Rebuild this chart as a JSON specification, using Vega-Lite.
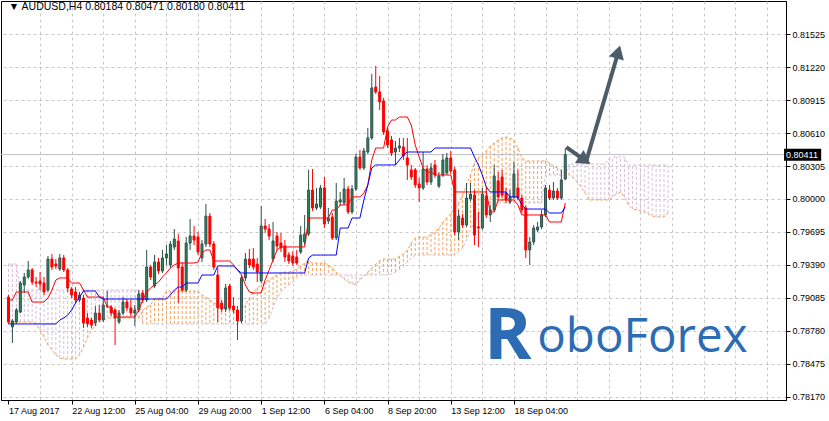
{
"$schema":"https://vega.github.io/schema/vega-lite/v6.json",
"width":785,"height":399,"autosize":"none",
"padding":{"left":1,"top":1,"right":43,"bottom":21},
"background":"white",
"config":{"view":{"stroke":"black","strokeWidth":1},"axis":{"labelFont":"Liberation Sans","labelFontSize":9,"labelColor":"black"}},
"datasets":{
"candles":[
{"i":0,"o":0.79092,"c":0.78861,"h":0.79111,"l":0.78843},
{"i":1,"o":0.78815,"c":0.78871,"h":0.78889,"l":0.78666},
{"i":2,"o":0.78861,"c":0.78972,"h":0.78991,"l":0.78843},
{"i":3,"o":0.78953,"c":0.79222,"h":0.79241,"l":0.78944},
{"i":4,"o":0.79204,"c":0.79278,"h":0.79315,"l":0.79129},
{"i":5,"o":0.79278,"c":0.79343,"h":0.79426,"l":0.79260},
{"i":6,"o":0.79343,"c":0.79231,"h":0.79361,"l":0.79204},
{"i":7,"o":0.79231,"c":0.79222,"h":0.79278,"l":0.79185},
{"i":8,"o":0.79241,"c":0.79213,"h":0.79324,"l":0.79157},
{"i":9,"o":0.79222,"c":0.79139,"h":0.79278,"l":0.79111},
{"i":10,"o":0.79157,"c":0.79444,"h":0.79472,"l":0.79139},
{"i":11,"o":0.79444,"c":0.79370,"h":0.79491,"l":0.79343},
{"i":12,"o":0.79398,"c":0.79379,"h":0.79444,"l":0.79352},
{"i":13,"o":0.79352,"c":0.79454,"h":0.79491,"l":0.79334},
{"i":14,"o":0.79454,"c":0.79343,"h":0.79482,"l":0.79324},
{"i":15,"o":0.79343,"c":0.79176,"h":0.79361,"l":0.79139},
{"i":16,"o":0.79167,"c":0.79111,"h":0.79185,"l":0.79083},
{"i":17,"o":0.79139,"c":0.79065,"h":0.79185,"l":0.79037},
{"i":18,"o":0.79065,"c":0.79111,"h":0.79139,"l":0.79046},
{"i":19,"o":0.79083,"c":0.78852,"h":0.79111,"l":0.78806},
{"i":20,"o":0.78898,"c":0.78843,"h":0.78944,"l":0.78815},
{"i":21,"o":0.78880,"c":0.78834,"h":0.78898,"l":0.78806},
{"i":22,"o":0.78852,"c":0.78944,"h":0.79009,"l":0.78824},
{"i":23,"o":0.78944,"c":0.78880,"h":0.79018,"l":0.78861},
{"i":24,"o":0.78880,"c":0.79018,"h":0.79083,"l":0.78861},
{"i":25,"o":0.79009,"c":0.79010,"h":0.79148,"l":0.78991},
{"i":26,"o":0.79000,"c":0.78944,"h":0.79018,"l":0.78916},
{"i":27,"o":0.78972,"c":0.78898,"h":0.78991,"l":0.78648},
{"i":28,"o":0.78861,"c":0.78944,"h":0.78972,"l":0.78843},
{"i":29,"o":0.78944,"c":0.79046,"h":0.79092,"l":0.78926},
{"i":30,"o":0.79046,"c":0.78991,"h":0.79074,"l":0.78963},
{"i":31,"o":0.78991,"c":0.78944,"h":0.79065,"l":0.78916},
{"i":32,"o":0.78944,"c":0.78972,"h":0.79018,"l":0.78824},
{"i":33,"o":0.78972,"c":0.79120,"h":0.79157,"l":0.78953},
{"i":34,"o":0.79129,"c":0.79065,"h":0.79157,"l":0.79037},
{"i":35,"o":0.79065,"c":0.79370,"h":0.79528,"l":0.79046},
{"i":36,"o":0.79370,"c":0.79278,"h":0.79389,"l":0.79250},
{"i":37,"o":0.79194,"c":0.79417,"h":0.79482,"l":0.79176},
{"i":38,"o":0.79417,"c":0.79334,"h":0.79454,"l":0.79306},
{"i":39,"o":0.79334,"c":0.79454,"h":0.79528,"l":0.79315},
{"i":40,"o":0.79454,"c":0.79491,"h":0.79574,"l":0.79389},
{"i":41,"o":0.79389,"c":0.79583,"h":0.79611,"l":0.79361},
{"i":42,"o":0.79555,"c":0.79629,"h":0.79722,"l":0.79528},
{"i":43,"o":0.79611,"c":0.79361,"h":0.79676,"l":0.79037},
{"i":44,"o":0.79370,"c":0.79157,"h":0.79417,"l":0.79139},
{"i":45,"o":0.79157,"c":0.79592,"h":0.79648,"l":0.79139},
{"i":46,"o":0.79592,"c":0.79657,"h":0.79815,"l":0.79528},
{"i":47,"o":0.79657,"c":0.79620,"h":0.79750,"l":0.79574},
{"i":48,"o":0.79648,"c":0.79509,"h":0.79694,"l":0.79482},
{"i":49,"o":0.79454,"c":0.79583,"h":0.79620,"l":0.79417},
{"i":50,"o":0.79583,"c":0.79842,"h":0.79954,"l":0.79555},
{"i":51,"o":0.79842,"c":0.79583,"h":0.79870,"l":0.79555},
{"i":52,"o":0.79583,"c":0.79370,"h":0.79611,"l":0.79343},
{"i":53,"o":0.79296,"c":0.78991,"h":0.79361,"l":0.78861},
{"i":54,"o":0.79037,"c":0.78981,"h":0.79065,"l":0.78953},
{"i":55,"o":0.78981,"c":0.79176,"h":0.79213,"l":0.78953},
{"i":56,"o":0.79194,"c":0.78991,"h":0.79213,"l":0.78972},
{"i":57,"o":0.79009,"c":0.78972,"h":0.79092,"l":0.78944},
{"i":58,"o":0.78972,"c":0.78871,"h":0.79009,"l":0.78694},
{"i":59,"o":0.78871,"c":0.79269,"h":0.79296,"l":0.78852},
{"i":60,"o":0.79269,"c":0.79444,"h":0.79500,"l":0.79241},
{"i":61,"o":0.79444,"c":0.79389,"h":0.79537,"l":0.79361},
{"i":62,"o":0.79444,"c":0.79370,"h":0.79546,"l":0.79343},
{"i":63,"o":0.79398,"c":0.79324,"h":0.79454,"l":0.79231},
{"i":64,"o":0.79241,"c":0.79750,"h":0.79935,"l":0.79222},
{"i":65,"o":0.79750,"c":0.79722,"h":0.79815,"l":0.79685},
{"i":66,"o":0.79722,"c":0.79657,"h":0.79768,"l":0.79620},
{"i":67,"o":0.79444,"c":0.79611,"h":0.79787,"l":0.79417},
{"i":68,"o":0.79657,"c":0.79565,"h":0.79694,"l":0.79528},
{"i":69,"o":0.79592,"c":0.79546,"h":0.79685,"l":0.79509},
{"i":70,"o":0.79565,"c":0.79463,"h":0.79620,"l":0.79417},
{"i":71,"o":0.79482,"c":0.79426,"h":0.79509,"l":0.79398},
{"i":72,"o":0.79472,"c":0.79407,"h":0.79518,"l":0.79379},
{"i":73,"o":0.79463,"c":0.79407,"h":0.79528,"l":0.79389},
{"i":74,"o":0.79509,"c":0.79666,"h":0.79750,"l":0.79491},
{"i":75,"o":0.79602,"c":0.79676,"h":0.79852,"l":0.79574},
{"i":76,"o":0.79676,"c":0.80083,"h":0.80269,"l":0.79657},
{"i":77,"o":0.80083,"c":0.79917,"h":0.80278,"l":0.79889},
{"i":78,"o":0.79917,"c":0.79954,"h":0.80102,"l":0.79898},
{"i":79,"o":0.79926,"c":0.80102,"h":0.80130,"l":0.79907},
{"i":80,"o":0.80102,"c":0.79768,"h":0.80204,"l":0.79731},
{"i":81,"o":0.79796,"c":0.79824,"h":0.79917,"l":0.79768},
{"i":82,"o":0.79833,"c":0.79639,"h":0.79870,"l":0.79620},
{"i":83,"o":0.79639,"c":0.79981,"h":0.80148,"l":0.79620},
{"i":84,"o":0.79972,"c":0.79991,"h":0.80065,"l":0.79935},
{"i":85,"o":0.79963,"c":0.80093,"h":0.80195,"l":0.79944},
{"i":86,"o":0.80093,"c":0.79880,"h":0.80120,"l":0.79861},
{"i":87,"o":0.79880,"c":0.80093,"h":0.80130,"l":0.79861},
{"i":88,"o":0.80093,"c":0.80389,"h":0.80417,"l":0.80074},
{"i":89,"o":0.80389,"c":0.80287,"h":0.80454,"l":0.80269},
{"i":90,"o":0.80287,"c":0.80445,"h":0.80472,"l":0.80269},
{"i":91,"o":0.80435,"c":0.80565,"h":0.80657,"l":0.80417},
{"i":92,"o":0.80565,"c":0.81028,"h":0.81158,"l":0.80547},
{"i":93,"o":0.81037,"c":0.80991,"h":0.81232,"l":0.80972},
{"i":94,"o":0.80991,"c":0.80898,"h":0.81139,"l":0.80824},
{"i":95,"o":0.80907,"c":0.80620,"h":0.80935,"l":0.80593},
{"i":96,"o":0.80630,"c":0.80500,"h":0.80657,"l":0.80472},
{"i":97,"o":0.80547,"c":0.80426,"h":0.80583,"l":0.80398},
{"i":98,"o":0.80435,"c":0.80472,"h":0.80537,"l":0.80315},
{"i":99,"o":0.80472,"c":0.80491,"h":0.80565,"l":0.80435},
{"i":100,"o":0.80482,"c":0.80398,"h":0.80565,"l":0.80361},
{"i":101,"o":0.80380,"c":0.80315,"h":0.80565,"l":0.80176},
{"i":102,"o":0.80269,"c":0.80204,"h":0.80315,"l":0.80176},
{"i":103,"o":0.80269,"c":0.80130,"h":0.80287,"l":0.80102},
{"i":104,"o":0.80139,"c":0.80102,"h":0.80195,"l":0.79972},
{"i":105,"o":0.80102,"c":0.80278,"h":0.80435,"l":0.80083},
{"i":106,"o":0.80278,"c":0.80157,"h":0.80315,"l":0.80130},
{"i":107,"o":0.80157,"c":0.80287,"h":0.80333,"l":0.80130},
{"i":108,"o":0.80315,"c":0.80222,"h":0.80361,"l":0.80195},
{"i":109,"o":0.80120,"c":0.80213,"h":0.80250,"l":0.80102},
{"i":110,"o":0.80222,"c":0.80361,"h":0.80417,"l":0.80204},
{"i":111,"o":0.80241,"c":0.80380,"h":0.80426,"l":0.80222},
{"i":112,"o":0.80380,"c":0.80259,"h":0.80445,"l":0.80232},
{"i":113,"o":0.80269,"c":0.79694,"h":0.80296,"l":0.79666},
{"i":114,"o":0.79694,"c":0.79842,"h":0.79898,"l":0.79620},
{"i":115,"o":0.79824,"c":0.79759,"h":0.79861,"l":0.79731},
{"i":116,"o":0.79759,"c":0.80009,"h":0.80148,"l":0.79741},
{"i":117,"o":0.80000,"c":0.80046,"h":0.80148,"l":0.79981},
{"i":118,"o":0.80037,"c":0.79666,"h":0.80083,"l":0.79574},
{"i":119,"o":0.79741,"c":0.79731,"h":0.79880,"l":0.79555},
{"i":120,"o":0.79731,"c":0.80046,"h":0.80102,"l":0.79713},
{"i":121,"o":0.80028,"c":0.79852,"h":0.80102,"l":0.79824},
{"i":122,"o":0.79852,"c":0.79898,"h":0.79944,"l":0.79787},
{"i":123,"o":0.79898,"c":0.80213,"h":0.80315,"l":0.79880},
{"i":124,"o":0.80167,"c":0.80019,"h":0.80250,"l":0.79991},
{"i":125,"o":0.80204,"c":0.80037,"h":0.80269,"l":0.80009},
{"i":126,"o":0.80056,"c":0.79991,"h":0.80102,"l":0.79963},
{"i":127,"o":0.79972,"c":0.80019,"h":0.80083,"l":0.79954},
{"i":128,"o":0.80019,"c":0.80232,"h":0.80343,"l":0.80000},
{"i":129,"o":0.80102,"c":0.80009,"h":0.80269,"l":0.79991},
{"i":130,"o":0.80009,"c":0.79898,"h":0.80037,"l":0.79870},
{"i":131,"o":0.79917,"c":0.79528,"h":0.79944,"l":0.79454},
{"i":132,"o":0.79528,"c":0.79602,"h":0.79648,"l":0.79389},
{"i":133,"o":0.79602,"c":0.79731,"h":0.79759,"l":0.79574},
{"i":134,"o":0.79713,"c":0.79741,"h":0.79787,"l":0.79694},
{"i":135,"o":0.79741,"c":0.79852,"h":0.79898,"l":0.79722},
{"i":136,"o":0.79852,"c":0.80102,"h":0.80130,"l":0.79833},
{"i":137,"o":0.80083,"c":0.80009,"h":0.80130,"l":0.79991},
{"i":138,"o":0.80009,"c":0.80074,"h":0.80157,"l":0.79991},
{"i":139,"o":0.80074,"c":0.80009,"h":0.80102,"l":0.79991},
{"i":140,"o":0.80009,"c":0.80176,"h":0.80269,"l":0.79991},
{"i":141,"o":0.80184,"c":0.80411,"h":0.80471,"l":0.80180}
],
"ichi":[
{"i":0,"t":0.79065,"k":0.78843,"a":0.78861,"b":0.79398},
{"i":1,"t":0.79065,"k":0.78843,"a":0.78861,"b":0.79398},
{"i":2,"t":0.79139,"k":0.78843,"a":0.78861,"b":0.79398},
{"i":3,"t":0.79139,"k":0.78843,"a":0.78861,"b":0.79157},
{"i":4,"t":0.79139,"k":0.78843,"a":0.78861,"b":0.79157},
{"i":5,"t":0.79139,"k":0.78843,"a":0.78861,"b":0.79157},
{"i":6,"t":0.79046,"k":0.78843,"a":0.78861,"b":0.79157},
{"i":7,"t":0.79046,"k":0.78843,"a":0.78843,"b":0.79157},
{"i":8,"t":0.79046,"k":0.78843,"a":0.78787,"b":0.79157},
{"i":9,"t":0.79046,"k":0.78843,"a":0.78722,"b":0.79157},
{"i":10,"t":0.79083,"k":0.78843,"a":0.78648,"b":0.79157},
{"i":11,"t":0.79157,"k":0.78843,"a":0.78602,"b":0.79157},
{"i":12,"t":0.79250,"k":0.78843,"a":0.78556,"b":0.79157},
{"i":13,"t":0.79269,"k":0.78880,"a":0.78528,"b":0.79157},
{"i":14,"t":0.79269,"k":0.78898,"a":0.78518,"b":0.79157},
{"i":15,"t":0.79269,"k":0.78926,"a":0.78518,"b":0.79157},
{"i":16,"t":0.79222,"k":0.78972,"a":0.78518,"b":0.79157},
{"i":17,"t":0.79222,"k":0.79037,"a":0.78518,"b":0.79157},
{"i":18,"t":0.79222,"k":0.79092,"a":0.78556,"b":0.79157},
{"i":19,"t":0.79157,"k":0.79148,"a":0.78630,"b":0.79157},
{"i":20,"t":0.79092,"k":0.79148,"a":0.78713,"b":0.79157},
{"i":21,"t":0.79092,"k":0.79148,"a":0.78787,"b":0.79157},
{"i":22,"t":0.79092,"k":0.79148,"a":0.78824,"b":0.79157},
{"i":23,"t":0.79092,"k":0.79092,"a":0.78861,"b":0.79157},
{"i":24,"t":0.79092,"k":0.79074,"a":0.78880,"b":0.79157},
{"i":25,"t":0.79000,"k":0.79074,"a":0.78898,"b":0.79157},
{"i":26,"t":0.79000,"k":0.79074,"a":0.78898,"b":0.79157},
{"i":27,"t":0.78907,"k":0.79074,"a":0.78898,"b":0.79157},
{"i":28,"t":0.78907,"k":0.79074,"a":0.78898,"b":0.79157},
{"i":29,"t":0.78907,"k":0.79074,"a":0.78898,"b":0.79157},
{"i":30,"t":0.78907,"k":0.79074,"a":0.78898,"b":0.79157},
{"i":31,"t":0.78907,"k":0.79074,"a":0.78898,"b":0.79157},
{"i":32,"t":0.78907,"k":0.79074,"a":0.78898,"b":0.79157},
{"i":33,"t":0.78972,"k":0.79074,"a":0.78898,"b":0.79157},
{"i":34,"t":0.79065,"k":0.79074,"a":0.78972,"b":0.78843},
{"i":35,"t":0.79139,"k":0.79074,"a":0.79000,"b":0.78843},
{"i":36,"t":0.79176,"k":0.79074,"a":0.79018,"b":0.78843},
{"i":37,"t":0.79204,"k":0.79074,"a":0.79083,"b":0.78843},
{"i":38,"t":0.79232,"k":0.79074,"a":0.79083,"b":0.78843},
{"i":39,"t":0.79278,"k":0.79074,"a":0.79083,"b":0.78843},
{"i":40,"t":0.79315,"k":0.79074,"a":0.79148,"b":0.78843},
{"i":41,"t":0.79361,"k":0.79111,"a":0.79148,"b":0.78843},
{"i":42,"t":0.79389,"k":0.79157,"a":0.79148,"b":0.78843},
{"i":43,"t":0.79407,"k":0.79185,"a":0.79148,"b":0.78843},
{"i":44,"t":0.79407,"k":0.79185,"a":0.79148,"b":0.78843},
{"i":45,"t":0.79407,"k":0.79222,"a":0.79148,"b":0.78843},
{"i":46,"t":0.79407,"k":0.79222,"a":0.79148,"b":0.78843},
{"i":47,"t":0.79407,"k":0.79222,"a":0.79148,"b":0.78843},
{"i":48,"t":0.79417,"k":0.79222,"a":0.79148,"b":0.78843},
{"i":49,"t":0.79500,"k":0.79296,"a":0.79111,"b":0.78843},
{"i":50,"t":0.79528,"k":0.79296,"a":0.79092,"b":0.78843},
{"i":51,"t":0.79528,"k":0.79296,"a":0.79065,"b":0.78843},
{"i":52,"t":0.79426,"k":0.79296,"a":0.79037,"b":0.78843},
{"i":53,"t":0.79426,"k":0.79380,"a":0.79018,"b":0.78843},
{"i":54,"t":0.79426,"k":0.79380,"a":0.79000,"b":0.78843},
{"i":55,"t":0.79426,"k":0.79380,"a":0.78991,"b":0.78843},
{"i":56,"t":0.79426,"k":0.79380,"a":0.78972,"b":0.78843},
{"i":57,"t":0.79389,"k":0.79380,"a":0.78954,"b":0.78843},
{"i":58,"t":0.79343,"k":0.79343,"a":0.78935,"b":0.78843},
{"i":59,"t":0.79296,"k":0.79315,"a":0.78954,"b":0.78843},
{"i":60,"t":0.79204,"k":0.79315,"a":0.79018,"b":0.78843},
{"i":61,"t":0.79139,"k":0.79315,"a":0.79083,"b":0.78843},
{"i":62,"t":0.79130,"k":0.79315,"a":0.79139,"b":0.78843},
{"i":63,"t":0.79130,"k":0.79315,"a":0.79176,"b":0.78843},
{"i":64,"t":0.79130,"k":0.79315,"a":0.79204,"b":0.78843},
{"i":65,"t":0.79250,"k":0.79315,"a":0.79232,"b":0.78843},
{"i":66,"t":0.79343,"k":0.79315,"a":0.79250,"b":0.78898},
{"i":67,"t":0.79435,"k":0.79315,"a":0.79278,"b":0.78991},
{"i":68,"t":0.79528,"k":0.79315,"a":0.79296,"b":0.79083},
{"i":69,"t":0.79556,"k":0.79315,"a":0.79315,"b":0.79139},
{"i":70,"t":0.79556,"k":0.79315,"a":0.79324,"b":0.79176},
{"i":71,"t":0.79556,"k":0.79315,"a":0.79324,"b":0.79204},
{"i":72,"t":0.79556,"k":0.79315,"a":0.79334,"b":0.79232},
{"i":73,"t":0.79556,"k":0.79315,"a":0.79352,"b":0.79269},
{"i":74,"t":0.79556,"k":0.79315,"a":0.79380,"b":0.79296},
{"i":75,"t":0.79556,"k":0.79315,"a":0.79407,"b":0.79296},
{"i":76,"t":0.79824,"k":0.79454,"a":0.79426,"b":0.79296},
{"i":77,"t":0.79824,"k":0.79481,"a":0.79407,"b":0.79296},
{"i":78,"t":0.79824,"k":0.79481,"a":0.79407,"b":0.79296},
{"i":79,"t":0.79824,"k":0.79481,"a":0.79407,"b":0.79296},
{"i":80,"t":0.79824,"k":0.79481,"a":0.79407,"b":0.79296},
{"i":81,"t":0.79824,"k":0.79481,"a":0.79389,"b":0.79296},
{"i":82,"t":0.79898,"k":0.79481,"a":0.79361,"b":0.79296},
{"i":83,"t":0.79898,"k":0.79481,"a":0.79324,"b":0.79296},
{"i":84,"t":0.79945,"k":0.79731,"a":0.79287,"b":0.79296},
{"i":85,"t":0.79945,"k":0.79731,"a":0.79259,"b":0.79296},
{"i":86,"t":0.79945,"k":0.79731,"a":0.79232,"b":0.79296},
{"i":87,"t":0.80019,"k":0.79824,"a":0.79213,"b":0.79296},
{"i":88,"t":0.80019,"k":0.79824,"a":0.79213,"b":0.79296},
{"i":89,"t":0.80019,"k":0.79824,"a":0.79250,"b":0.79296},
{"i":90,"t":0.80056,"k":0.79991,"a":0.79287,"b":0.79296},
{"i":91,"t":0.80130,"k":0.80130,"a":0.79324,"b":0.79296},
{"i":92,"t":0.80361,"k":0.80287,"a":0.79361,"b":0.79296},
{"i":93,"t":0.80472,"k":0.80315,"a":0.79398,"b":0.79296},
{"i":94,"t":0.80472,"k":0.80315,"a":0.79426,"b":0.79296},
{"i":95,"t":0.80472,"k":0.80315,"a":0.79444,"b":0.79296},
{"i":96,"t":0.80667,"k":0.80315,"a":0.79444,"b":0.79296},
{"i":97,"t":0.80731,"k":0.80315,"a":0.79444,"b":0.79306},
{"i":98,"t":0.80731,"k":0.80315,"a":0.79444,"b":0.79324},
{"i":99,"t":0.80759,"k":0.80361,"a":0.79472,"b":0.79343},
{"i":100,"t":0.80759,"k":0.80407,"a":0.79491,"b":0.79380},
{"i":101,"t":0.80759,"k":0.80435,"a":0.79528,"b":0.79417},
{"i":102,"t":0.80685,"k":0.80435,"a":0.79593,"b":0.79454},
{"i":103,"t":0.80500,"k":0.80435,"a":0.79639,"b":0.79481},
{"i":104,"t":0.80389,"k":0.80435,"a":0.79648,"b":0.79481},
{"i":105,"t":0.80287,"k":0.80435,"a":0.79648,"b":0.79481},
{"i":106,"t":0.80250,"k":0.80435,"a":0.79648,"b":0.79481},
{"i":107,"t":0.80250,"k":0.80435,"a":0.79676,"b":0.79481},
{"i":108,"t":0.80222,"k":0.80472,"a":0.79694,"b":0.79481},
{"i":109,"t":0.80222,"k":0.80472,"a":0.79731,"b":0.79481},
{"i":110,"t":0.80222,"k":0.80472,"a":0.79787,"b":0.79481},
{"i":111,"t":0.80222,"k":0.80472,"a":0.79824,"b":0.79481},
{"i":112,"t":0.80222,"k":0.80472,"a":0.79861,"b":0.79481},
{"i":113,"t":0.80065,"k":0.80472,"a":0.79917,"b":0.79481},
{"i":114,"t":0.80065,"k":0.80472,"a":0.79963,"b":0.79509},
{"i":115,"t":0.80065,"k":0.80472,"a":0.80037,"b":0.79546},
{"i":116,"t":0.80065,"k":0.80472,"a":0.80130,"b":0.79620},
{"i":117,"t":0.80065,"k":0.80472,"a":0.80222,"b":0.79713},
{"i":118,"t":0.80065,"k":0.80389,"a":0.80333,"b":0.79787},
{"i":119,"t":0.80065,"k":0.80315,"a":0.80380,"b":0.79852},
{"i":120,"t":0.80065,"k":0.80222,"a":0.80407,"b":0.79917},
{"i":121,"t":0.80065,"k":0.80111,"a":0.80444,"b":0.79954},
{"i":122,"t":0.79880,"k":0.80065,"a":0.80491,"b":0.79963},
{"i":123,"t":0.79880,"k":0.80065,"a":0.80518,"b":0.79963},
{"i":124,"t":0.79991,"k":0.80065,"a":0.80546,"b":0.79963},
{"i":125,"t":0.79991,"k":0.80065,"a":0.80565,"b":0.79963},
{"i":126,"t":0.79991,"k":0.80065,"a":0.80574,"b":0.79963},
{"i":127,"t":0.79991,"k":0.80019,"a":0.80565,"b":0.79963},
{"i":128,"t":0.79991,"k":0.80019,"a":0.80546,"b":0.79963},
{"i":129,"t":0.79945,"k":0.80019,"a":0.80472,"b":0.79963},
{"i":130,"t":0.79852,"k":0.79945,"a":0.80380,"b":0.79963},
{"i":131,"t":0.79852,"k":0.79907,"a":0.80352,"b":0.79963},
{"i":132,"t":0.79852,"k":0.79907,"a":0.80352,"b":0.79963},
{"i":133,"t":0.79852,"k":0.79907,"a":0.80352,"b":0.79963},
{"i":134,"t":0.79852,"k":0.79907,"a":0.80352,"b":0.79963},
{"i":135,"t":0.79852,"k":0.79907,"a":0.80352,"b":0.79963},
{"i":136,"t":0.79852,"k":0.79907,"a":0.80352,"b":0.80222},
{"i":137,"t":0.79787,"k":0.79870,"a":0.80333,"b":0.80222},
{"i":138,"t":0.79787,"k":0.79870,"a":0.80305,"b":0.80222},
{"i":139,"t":0.79787,"k":0.79870,"a":0.80287,"b":0.80222},
{"i":140,"t":0.79787,"k":0.79870,"a":0.80268,"b":0.80222},
{"i":141,"t":0.79963,"k":0.79926,"a":0.80250,"b":0.80222},
{"i":142,"a":0.80222,"b":0.80324},
{"i":143,"a":0.80194,"b":0.80324},
{"i":144,"a":0.80157,"b":0.80324},
{"i":145,"a":0.80111,"b":0.80324},
{"i":146,"a":0.80056,"b":0.80324},
{"i":147,"a":0.79991,"b":0.80324},
{"i":148,"a":0.79991,"b":0.80324},
{"i":149,"a":0.79991,"b":0.80324},
{"i":150,"a":0.79991,"b":0.80324},
{"i":151,"a":0.79991,"b":0.80324},
{"i":152,"a":0.79991,"b":0.80370},
{"i":153,"a":0.80019,"b":0.80389},
{"i":154,"a":0.80046,"b":0.80389},
{"i":155,"a":0.80065,"b":0.80389},
{"i":156,"a":0.80019,"b":0.80389},
{"i":157,"a":0.79945,"b":0.80315},
{"i":158,"a":0.79907,"b":0.80315},
{"i":159,"a":0.79898,"b":0.80315},
{"i":160,"a":0.79889,"b":0.80315},
{"i":161,"a":0.79880,"b":0.80315},
{"i":162,"a":0.79861,"b":0.80315},
{"i":163,"a":0.79843,"b":0.80315},
{"i":164,"a":0.79833,"b":0.80315},
{"i":165,"a":0.79833,"b":0.80315},
{"i":166,"a":0.79833,"b":0.80315},
{"i":167,"a":0.79870,"b":0.80315}
],
"arrows":[
{"x":141.25,"y":0.80481,"x2":145.7,"y2":0.80365},
{"x":146.25,"y":0.80343,"x2":154.3,"y2":0.81345}
],
"one":[{}]
},
"layer":[
{"data":{"name":"ichi"},"mark":{"type":"rule","strokeDash":[3,2],"strokeWidth":1},
 "encoding":{
  "x":{"field":"i","type":"quantitative","scale":{"domain":[-0.625,195.625],"nice":false,"zero":false},
       "axis":{"orient":"bottom","tickCount":60,"values":[0,8,16,24,32,40,48,56,64,72,80,88,96,104,112,120,128,136,144,152,160,168,176,184,192],
        "labelExpr":"datum.value==0?'17 Aug 2017':datum.value==16?'22 Aug 12:00':datum.value==32?'25 Aug 04:00':datum.value==48?'29 Aug 20:00':datum.value==64?'1 Sep 12:00':datum.value==80?'6 Sep 04:00':datum.value==96?'8 Sep 20:00':datum.value==112?'13 Sep 12:00':datum.value==128?'18 Sep 04:00':''",
        "labelAlign":"left","labelPadding":2,"tickSize":4,
        "tickColor":{"condition":{"test":"datum.value % 16 == 0 && datum.value <= 128","value":"black"},"value":"rgba(0,0,0,0)"},
        "gridColor":{"condition":{"test":"datum.value == 0","value":"rgba(0,0,0,0)"},"value":"#c8c8c8"},
        "domainColor":"black","grid":true,"gridDash":[3,3],"title":null,"labelFlush":false,"labelOverlap":false,"labelBound":false}},
  "y":{"field":"a","type":"quantitative","scale":{"domain":[0.78139,0.81833],"nice":false,"zero":false},
       "axis":{"orient":"right","tickCount":40,"values":[0.7817,0.78475,0.7878,0.79085,0.7939,0.79695,0.8,0.80305,0.8061,0.80915,0.8122,0.81525],"format":".5f","grid":true,"gridDash":[3,3],"gridColor":"#c8c8c8","tickSize":4,"tickColor":"black","domainColor":"black","labelPadding":2,"title":null,"labelOverlap":false,"labelFlush":false}},
  "y2":{"field":"b"},
  "color":{"condition":{"test":"datum.a > datum.b","value":"#F4A460"},"value":"#D8BFD8"}
 }},
{"data":{"name":"ichi"},"mark":{"type":"line","strokeDash":[3,2],"strokeWidth":1,"color":"#F4A460"},
 "encoding":{"x":{"field":"i","type":"quantitative"},"y":{"field":"a","type":"quantitative"}}},
{"data":{"name":"ichi"},"mark":{"type":"line","strokeDash":[3,2],"strokeWidth":1,"color":"#D8BFD8"},
 "encoding":{"x":{"field":"i","type":"quantitative"},"y":{"field":"b","type":"quantitative"}}},
{"data":{"name":"one"},"mark":{"type":"rule","color":"#c0c0c0","strokeWidth":1},
 "encoding":{"y":{"datum":0.80411,"type":"quantitative"}}},
{"data":{"name":"candles"},"mark":{"type":"rule","strokeWidth":1},
 "encoding":{"x":{"field":"i","type":"quantitative"},
  "y":{"field":"l","type":"quantitative"},"y2":{"field":"h"},
  "color":{"condition":{"test":"datum.c >= datum.o","value":"#2F4F4F"},"value":"#FF0000"}}},
{"data":{"name":"candles"},"mark":{"type":"bar","width":2,"strokeWidth":1},
 "encoding":{"x":{"field":"i","type":"quantitative"},
  "y":{"field":"o","type":"quantitative"},"y2":{"field":"c"},
  "fill":{"condition":{"test":"datum.c >= datum.o","value":"#2E8B57"},"value":"#FF0000"},
  "stroke":{"condition":{"test":"datum.c >= datum.o","value":"#2F4F4F"},"value":"#FF0000"}}},
{"data":{"name":"ichi"},"mark":{"type":"line","strokeWidth":1,"color":"#FF0000"},
 "encoding":{"x":{"field":"i","type":"quantitative"},"y":{"field":"t","type":"quantitative"}}},
{"data":{"name":"ichi"},"mark":{"type":"line","strokeWidth":1,"color":"#0000FF"},
 "encoding":{"x":{"field":"i","type":"quantitative"},"y":{"field":"k","type":"quantitative"}}},
{"data":{"name":"arrows"},"mark":{"type":"rule","strokeWidth":4,"color":"#4d5c69","strokeCap":"butt"},
 "encoding":{"x":{"field":"x","type":"quantitative"},"y":{"field":"y","type":"quantitative"},
  "x2":{"field":"x2"},"y2":{"field":"y2"}}},
{"data":{"name":"one"},"mark":{"type":"point","shape":"triangle-up","size":240,"filled":true,"color":"#4d5c69","opacity":1,"angle":124},
 "encoding":{"x":{"datum":145.95,"type":"quantitative"},"y":{"datum":0.80359,"type":"quantitative"}}},
{"data":{"name":"one"},"mark":{"type":"point","shape":"triangle-up","size":240,"filled":true,"color":"#4d5c69","opacity":1,"angle":16},
 "encoding":{"x":{"datum":154.4,"type":"quantitative"},"y":{"datum":0.81361,"type":"quantitative"}}},
{"data":{"name":"one"},"mark":{"type":"rect","color":"black","clip":false},
 "encoding":{"x":{"datum":196.4,"type":"quantitative"},"x2":{"datum":205.8},
  "y":{"datum":0.80466,"type":"quantitative"},"y2":{"datum":0.80355}}},
{"data":{"name":"one"},"mark":{"type":"text","text":"0.80411","color":"white","align":"left","baseline":"middle","font":"Liberation Sans","fontSize":9,"clip":false},
 "encoding":{"x":{"datum":196.9,"type":"quantitative"},"y":{"datum":0.80411,"type":"quantitative"}}},
{"data":{"name":"one"},"mark":{"type":"text","text":"▼ AUDUSD,H4  0.80184 0.80471 0.80180 0.80411","color":"black","align":"left","baseline":"middle","font":"Liberation Sans","fontSize":10.5},
 "encoding":{"x":{"datum":0.1,"type":"quantitative"},"y":{"datum":0.81782,"type":"quantitative"}}},
{"data":{"name":"one"},"mark":{"type":"text","text":"R","color":"#2b6cb5","align":"left","baseline":"alphabetic","font":"Open Sans","fontWeight":"bold","fontSize":72},
 "encoding":{"x":{"datum":120.4,"type":"quantitative"},"y":{"datum":0.78518,"type":"quantitative"}}},
{"data":{"name":"one"},"mark":{"type":"text","text":"oboForex","color":"#2b6cb5","align":"left","baseline":"alphabetic","font":"Open Sans","fontSize":47.5},
 "encoding":{"x":{"datum":133.9,"type":"quantitative"},"y":{"datum":0.78583,"type":"quantitative"}}}
]
}
